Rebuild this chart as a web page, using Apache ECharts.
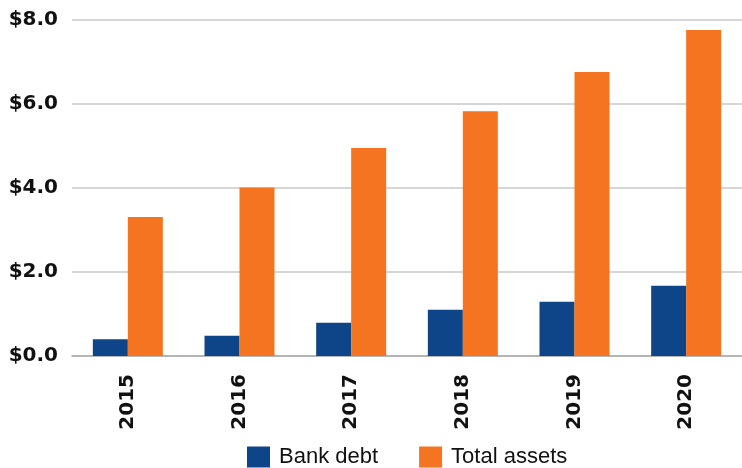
<!DOCTYPE html>
<html>
<head>
<meta charset="utf-8">
<style>
  html, body { margin: 0; padding: 0; background: #fff; }
  #chart { width: 742px; height: 468px; }
</style>
<script src="https://cdn.jsdelivr.net/npm/echarts@6/dist/echarts.min.js"></script>
</head>
<body>
<div id="chart"></div>
<script>
// Years on the x axis
var years = ['2015', '2016', '2017', '2018', '2019', '2020'];
// Values in dollars (billions)
var bankDebt = [0.40, 0.48, 0.79, 1.10, 1.29, 1.67];
var totalAssets = [3.31, 4.01, 4.95, 5.83, 6.76, 7.76];
// Value axis ticks
var yTicks = [0, 2, 4, 6, 8];

var chart = echarts.init(document.getElementById('chart'));
chart.setOption({
  animation: false,
  grid: { left: 72, right: 0, top: 20, bottom: 112, containLabel: false },
  legend: {
    top: 446,
    left: 247,
    padding: 0,
    itemWidth: 23,
    itemHeight: 21,
    itemGap: 41,
    icon: 'rect',
    textStyle: {
      fontFamily: 'Liberation Sans',
      fontSize: 22,
      color: '#111',
      padding: [0, 0, 0, 4]
    },
    data: ['Bank debt', 'Total assets']
  },
  xAxis: {
    type: 'category',
    data: years,
    axisLine: { show: true, lineStyle: { color: '#aaa', width: 1.5 } },
    axisTick: { show: false },
    axisLabel: {
      rotate: 90,
      margin: 18,
      fontFamily: 'DejaVu Sans',
      fontWeight: 'bold',
      fontSize: 20,
      color: '#111'
    }
  },
  yAxis: {
    type: 'value',
    min: yTicks[0],
    max: yTicks[yTicks.length - 1],
    interval: 2,
    axisLine: { show: false },
    axisTick: { show: false },
    splitLine: { lineStyle: { color: '#c8c8c8', width: 1.5 } },
    axisLabel: {
      margin: 14,
      fontFamily: 'DejaVu Sans',
      fontWeight: 'bold',
      fontSize: 20,
      color: '#111',
      formatter: function (v) { return '$' + v.toFixed(1); }
    }
  },
  series: [
    {
      name: 'Bank debt',
      type: 'bar',
      data: bankDebt,
      barWidth: 35,
      barGap: '0%',
      itemStyle: { color: '#0E4588' }
    },
    {
      name: 'Total assets',
      type: 'bar',
      data: totalAssets,
      barWidth: 35,
      barGap: '0%',
      itemStyle: { color: '#F47421' }
    }
  ]
});
</script>
</body>
</html>
